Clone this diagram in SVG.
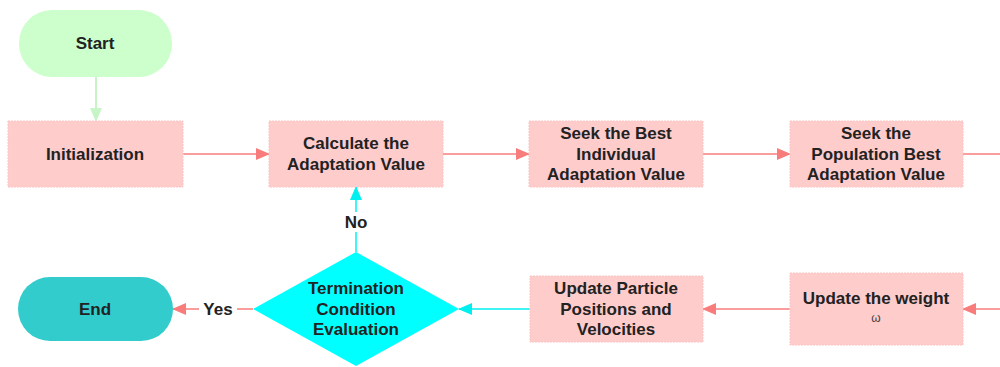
<svg xmlns="http://www.w3.org/2000/svg" width="1000" height="367" viewBox="0 0 1000 367">
<defs>
<style>
.t{font-family:"Liberation Sans",Arial,sans-serif;font-weight:bold;font-size:17px;fill:#222;text-anchor:middle;dominant-baseline:central}
.box{fill:#ffcccc;stroke:#fbc4c4;stroke-width:1;stroke-dasharray:2 1}
.pl{stroke:#f87c7c;stroke-width:1.3;fill:none}
.cl{stroke:#00f0f0;stroke-width:1.5;fill:none}
.gl{stroke:#c8f5c8;stroke-width:2;fill:none}
</style>
<marker id="ap" markerWidth="14" markerHeight="12" refX="13" refY="6" orient="auto" markerUnits="userSpaceOnUse"><path d="M0,0 L14,6 L0,12 z" fill="#f87c7c"/></marker>
<marker id="ac" markerWidth="14" markerHeight="12" refX="13" refY="6" orient="auto" markerUnits="userSpaceOnUse"><path d="M0,0 L14,6 L0,12 z" fill="#00f0f0"/></marker>
<marker id="ag" markerWidth="14" markerHeight="12" refX="13" refY="6" orient="auto" markerUnits="userSpaceOnUse"><path d="M0,0 L14,6 L0,12 z" fill="#c8f5c8"/></marker>
</defs>
<rect width="1000" height="367" fill="#fff"/>
<g id="connectors">
<line class="gl" x1="96" y1="77" x2="96" y2="121" marker-end="url(#ag)"/>
<line class="pl" x1="183" y1="154" x2="269" y2="154" marker-end="url(#ap)"/>
<line class="pl" x1="443" y1="154" x2="529" y2="154" marker-end="url(#ap)"/>
<line class="pl" x1="703" y1="154" x2="790" y2="154" marker-end="url(#ap)"/>
<line class="pl" x1="963" y1="154" x2="1000" y2="154"/>
<line class="pl" x1="1000" y1="309" x2="963" y2="309" marker-end="url(#ap)"/>
<line class="pl" x1="790" y1="309" x2="703" y2="309" marker-end="url(#ap)"/>
<line class="cl" x1="530" y1="309" x2="459" y2="309" marker-end="url(#ac)"/>
<line class="cl" x1="356" y1="252" x2="356" y2="187" marker-end="url(#ac)"/>
<line class="pl" x1="253" y1="309" x2="173" y2="309" marker-end="url(#ap)"/>
<rect x="336" y="212" width="40" height="20" fill="#fff"/>
<text class="t" x="356" y="222">No</text>
<rect x="199" y="299" width="38" height="20" fill="#fff"/>
<text class="t" x="218" y="309">Yes</text>
</g>
<g id="start">
<rect x="19" y="10" width="153" height="67" rx="33" fill="#ccffcc"/>
<text class="t" x="95" y="43">Start</text>
</g>
<g id="init">
<rect class="box" x="8" y="121" width="175" height="66"/>
<text class="t" x="95" y="154">Initialization</text>
</g>
<g id="calc">
<rect class="box" x="269" y="121" width="174" height="66"/>
<text class="t" x="356" y="143">Calculate the</text>
<text class="t" x="356" y="164">Adaptation Value</text>
</g>
<g id="seekInd">
<rect class="box" x="529" y="121" width="174" height="66"/>
<text class="t" x="616" y="133">Seek the Best</text>
<text class="t" x="616" y="154">Individual</text>
<text class="t" x="616" y="174">Adaptation Value</text>
</g>
<g id="seekPop">
<rect class="box" x="790" y="121" width="173" height="66"/>
<text class="t" x="876" y="133">Seek the</text>
<text class="t" x="876" y="154">Population Best</text>
<text class="t" x="876" y="174">Adaptation Value</text>
</g>
<g id="weight">
<rect class="box" x="790" y="273" width="173" height="72"/>
<text class="t" x="876" y="298">Update the weight</text>
<text x="876" y="322" font-family="'Liberation Sans',Arial,sans-serif" font-size="12" fill="#444" text-anchor="middle">ω</text>
</g>
<g id="update">
<rect class="box" x="530" y="276" width="173" height="66"/>
<text class="t" x="616" y="288">Update Particle</text>
<text class="t" x="616" y="309">Positions and</text>
<text class="t" x="616" y="329">Velocities</text>
</g>
<g id="term">
<polygon points="356,252 459,309 356,366 253,309" fill="#00ffff"/>
<text class="t" x="356" y="288">Termination</text>
<text class="t" x="356" y="309">Condition</text>
<text class="t" x="356" y="329">Evaluation</text>
</g>
<g id="end">
<rect x="18" y="277" width="155" height="64" rx="32" fill="#33cccc"/>
<text class="t" x="95" y="309">End</text>
</g>
</svg>
